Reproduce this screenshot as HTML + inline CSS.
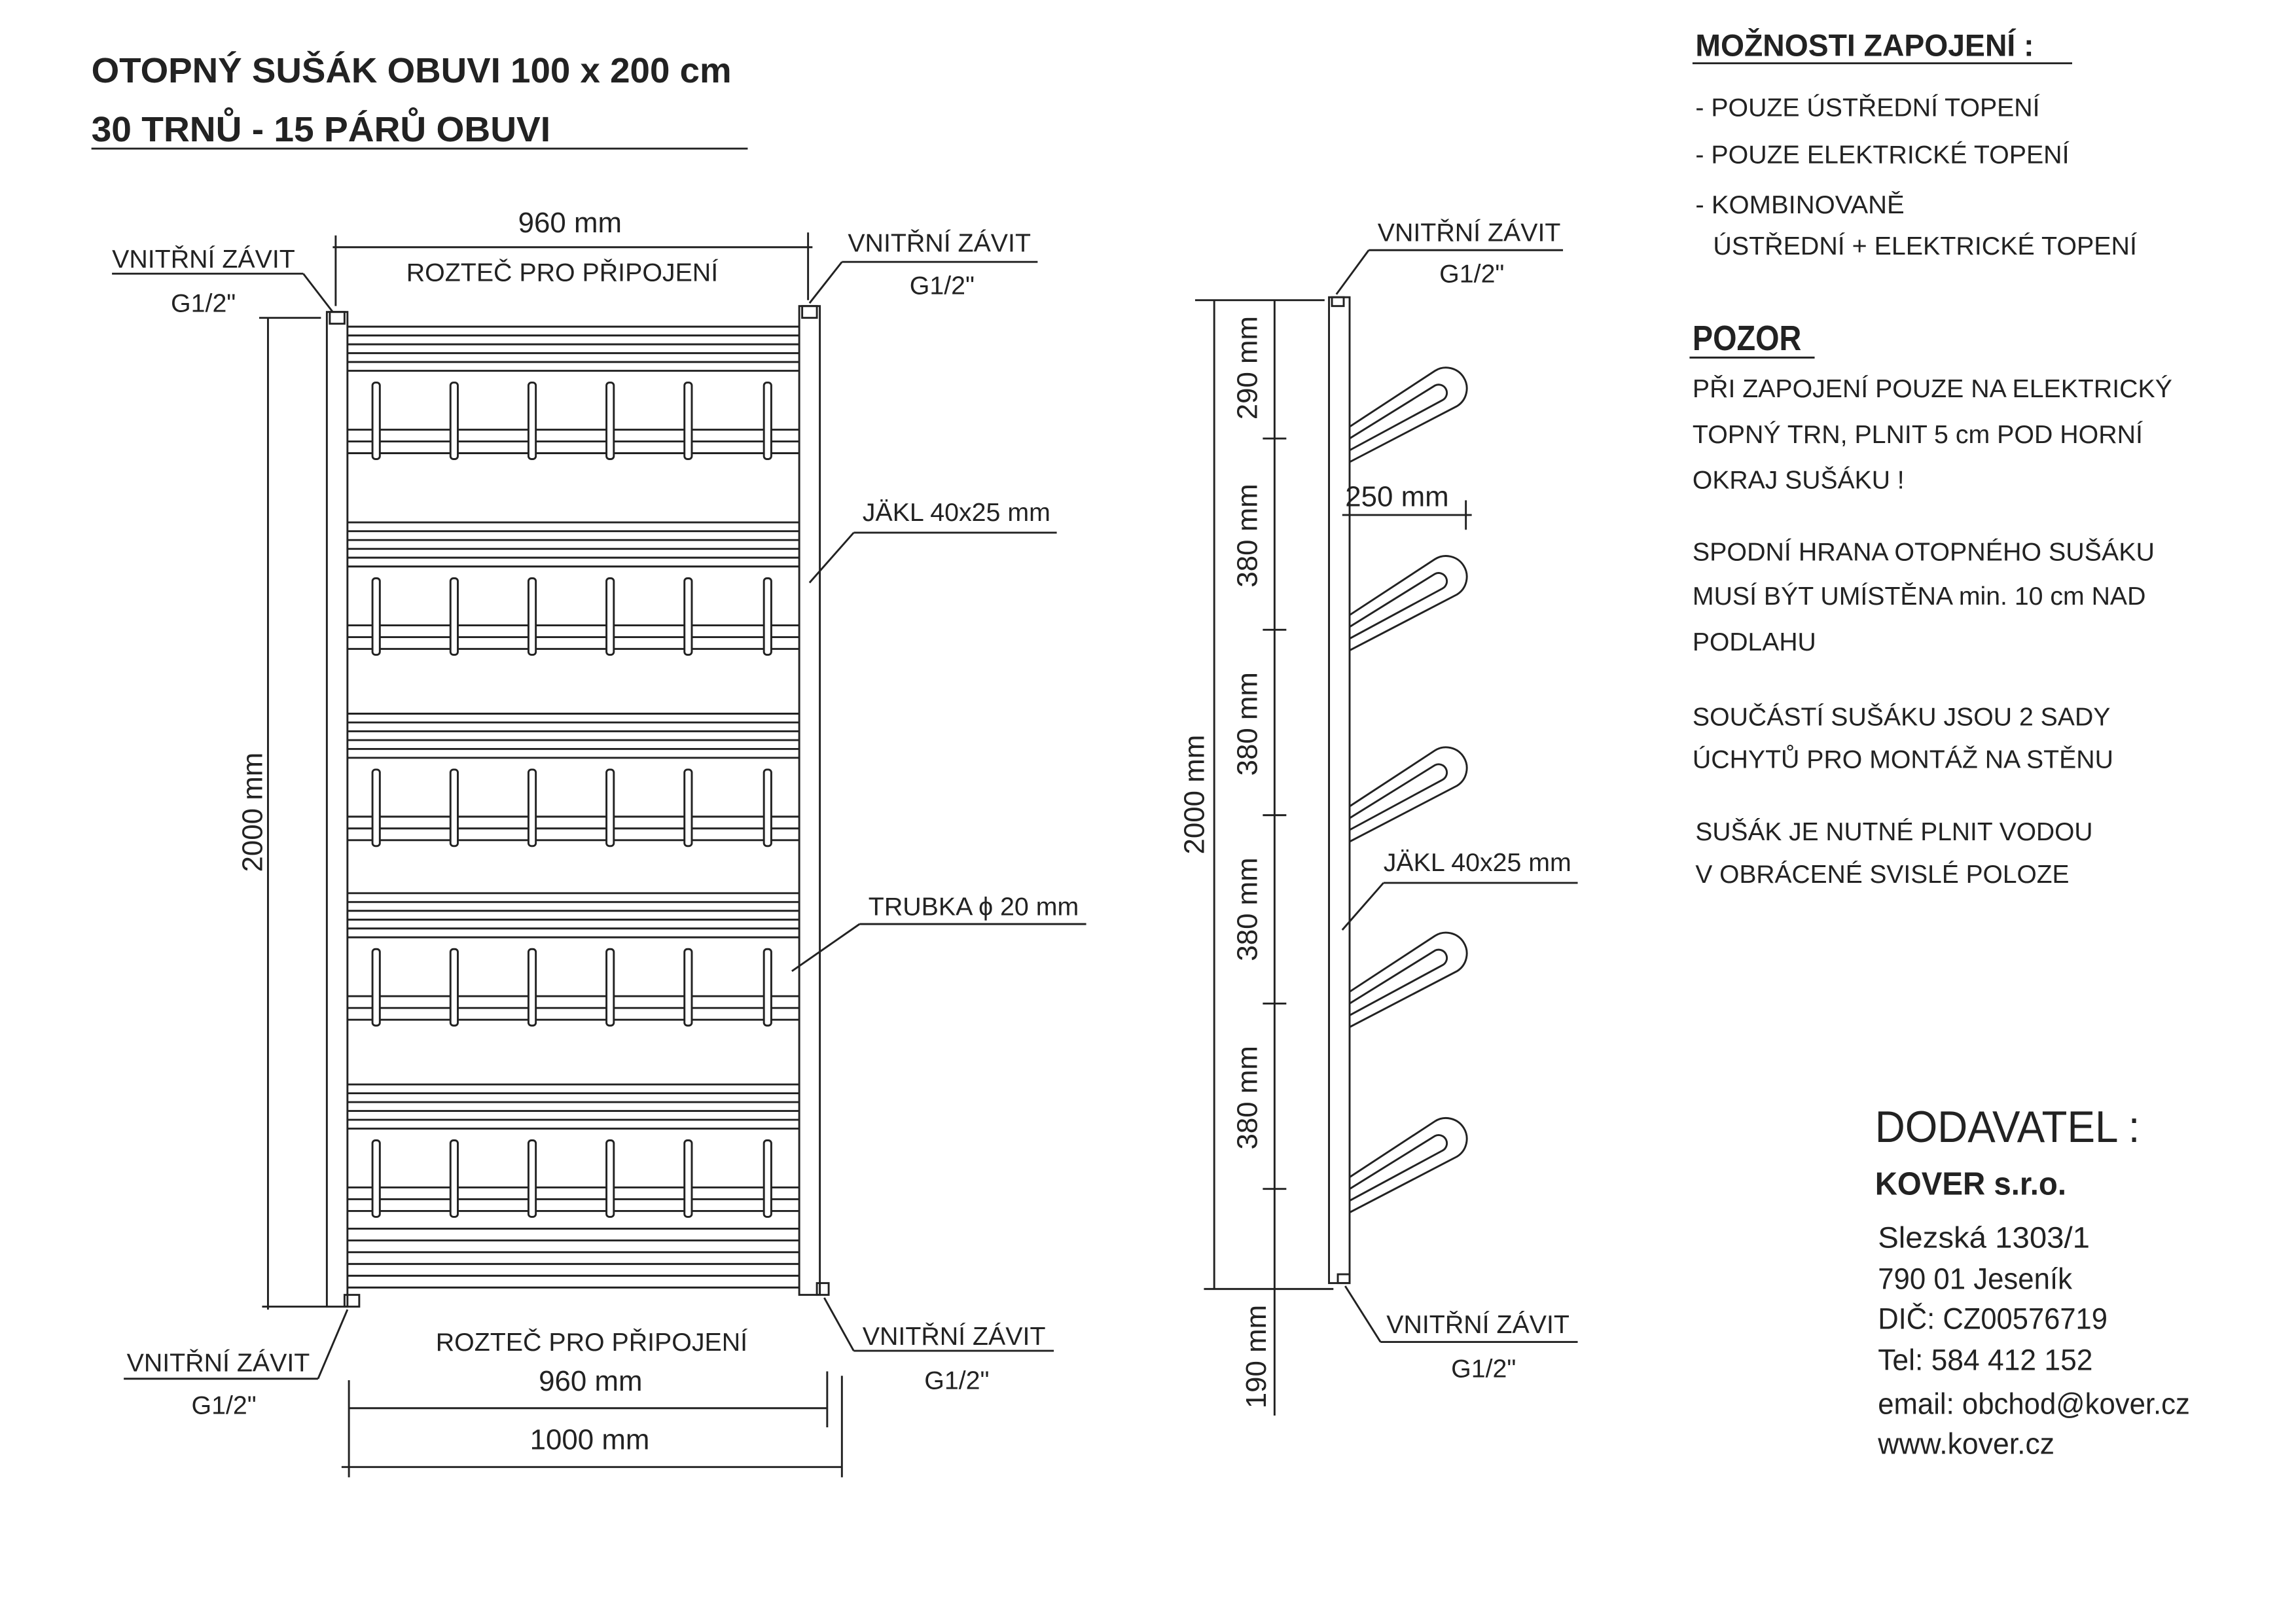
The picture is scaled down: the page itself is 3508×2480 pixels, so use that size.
<!DOCTYPE html>
<html><head><meta charset="utf-8"><style>
html,body{margin:0;padding:0;background:#fff;}
svg{display:block;}
text{font-family:"Liberation Sans",sans-serif;fill:#222;}
</style></head><body>
<svg width="3508" height="2480" viewBox="0 0 1560 1103" xmlns="http://www.w3.org/2000/svg">
<defs>
<g id="grp">
 <line x1="236" y1="0" x2="543" y2="0"/><line x1="236" y1="6" x2="543" y2="6"/>
 <line x1="236" y1="12" x2="543" y2="12"/><line x1="236" y1="18" x2="543" y2="18"/>
 <line x1="236" y1="24" x2="543" y2="24"/><line x1="236" y1="30" x2="543" y2="30"/>
 <line x1="236" y1="70" x2="543" y2="70"/><line x1="236" y1="78" x2="543" y2="78"/>
 <line x1="236" y1="86" x2="543" y2="86"/>
 <g fill="#fff">
 <rect x="253" y="38" width="5" height="52" rx="2"/><rect x="306" y="38" width="5" height="52" rx="2"/>
 <rect x="359" y="38" width="5" height="52" rx="2"/><rect x="412" y="38" width="5" height="52" rx="2"/>
 <rect x="465" y="38" width="5" height="52" rx="2"/><rect x="519" y="38" width="5" height="52" rx="2"/>
 </g>
</g>
<g id="loop">
 <path d="M917 50 L975 12 A14 14 0 0 1 990 36 L917 74" fill="none"/>
 <path d="M917 58 L975 22 A5 5 0 0 1 980 32 L917 66" fill="none"/>
</g>
</defs>
<g stroke="#222" stroke-width="1.3" fill="none">
 <line x1="62" y1="101" x2="508" y2="101"/>
 <line x1="1150" y1="43" x2="1408" y2="43"/>
 <line x1="1148" y1="243" x2="1233" y2="243"/>
 <rect x="222" y="212" width="14" height="676"/>
 <rect x="224" y="212" width="10" height="8"/><rect x="234" y="880" width="10" height="8"/>
 <rect x="543" y="208" width="14" height="672"/>
 <rect x="545" y="208" width="10" height="8"/><rect x="555" y="872" width="8" height="8"/>
 <use href="#grp" y="222"/><use href="#grp" y="355"/><use href="#grp" y="485"/>
 <use href="#grp" y="607"/><use href="#grp" y="737"/>
 <line x1="236" y1="835" x2="543" y2="835"/><line x1="236" y1="843" x2="543" y2="843"/>
 <line x1="236" y1="851" x2="543" y2="851"/><line x1="236" y1="859" x2="543" y2="859"/>
 <line x1="236" y1="867" x2="543" y2="867"/><line x1="236" y1="875" x2="543" y2="875"/>
 <line x1="226" y1="168" x2="552" y2="168"/><line x1="228" y1="160" x2="228" y2="208"/><line x1="549" y1="158" x2="549" y2="204"/>
 <line x1="182" y1="216" x2="182" y2="890"/><line x1="176" y1="216" x2="218" y2="216"/><line x1="178" y1="888" x2="222" y2="888"/>
 <line x1="237" y1="957" x2="562" y2="957"/><line x1="237" y1="938" x2="237" y2="1004"/><line x1="562" y1="932" x2="562" y2="970"/>
 <line x1="232" y1="997" x2="572" y2="997"/><line x1="572" y1="935" x2="572" y2="1004"/>
 <line x1="76" y1="186" x2="206" y2="186"/><line x1="206" y1="186" x2="226" y2="212"/>
 <line x1="572" y1="178" x2="705" y2="178"/><line x1="572" y1="178" x2="550" y2="206"/>
 <line x1="580" y1="362" x2="718" y2="362"/><line x1="580" y1="362" x2="550" y2="396"/>
 <line x1="584" y1="628" x2="738" y2="628"/><line x1="584" y1="628" x2="538" y2="660"/>
 <line x1="84" y1="937" x2="216" y2="937"/><line x1="216" y1="937" x2="236" y2="890"/>
 <line x1="580" y1="918" x2="716" y2="918"/><line x1="580" y1="918" x2="560" y2="882"/>
 <rect x="903" y="202" width="14" height="670"/>
 <rect x="905" y="202" width="8" height="6"/><rect x="909" y="866" width="8" height="6"/>
 <use href="#loop" y="240"/><use href="#loop" y="368"/><use href="#loop" y="498"/>
 <use href="#loop" y="624"/><use href="#loop" y="750"/>
 <line x1="825" y1="204" x2="825" y2="876"/><line x1="812" y1="204" x2="900" y2="204"/>
 <line x1="866" y1="204" x2="866" y2="962"/>
 <line x1="858" y1="298" x2="874" y2="298"/><line x1="858" y1="428" x2="874" y2="428"/>
 <line x1="858" y1="554" x2="874" y2="554"/><line x1="858" y1="682" x2="874" y2="682"/>
 <line x1="858" y1="808" x2="874" y2="808"/><line x1="818" y1="876" x2="906" y2="876"/>
 <line x1="912" y1="350" x2="1000" y2="350"/><line x1="996" y1="340" x2="996" y2="360"/>
 <line x1="930" y1="170" x2="1062" y2="170"/><line x1="930" y1="170" x2="908" y2="200"/>
 <line x1="940" y1="600" x2="1072" y2="600"/><line x1="940" y1="600" x2="912" y2="632"/>
 <line x1="938" y1="912" x2="1072" y2="912"/><line x1="938" y1="912" x2="914" y2="874"/>
</g>
<text x="62" y="56" font-size="24" font-weight="bold" textLength="435" lengthAdjust="spacingAndGlyphs">OTOPNÝ SUŠÁK OBUVI 100 x 200 cm</text>
<text x="62" y="96" font-size="24" font-weight="bold" textLength="312" lengthAdjust="spacingAndGlyphs">30 TRNŮ - 15 PÁRŮ OBUVI</text>
<text x="1152" y="38" font-size="21" font-weight="bold" textLength="230" lengthAdjust="spacingAndGlyphs">MOŽNOSTI ZAPOJENÍ :</text>
<g font-size="17.5">
<text x="1152" y="79" textLength="234" lengthAdjust="spacingAndGlyphs">- POUZE ÚSTŘEDNÍ TOPENÍ</text>
<text x="1152" y="111" textLength="254" lengthAdjust="spacingAndGlyphs">- POUZE ELEKTRICKÉ TOPENÍ</text>
<text x="1152" y="145" textLength="142" lengthAdjust="spacingAndGlyphs">- KOMBINOVANĚ</text>
<text x="1164" y="173" textLength="288" lengthAdjust="spacingAndGlyphs">ÚSTŘEDNÍ + ELEKTRICKÉ TOPENÍ</text>
<text x="1150" y="270" textLength="326" lengthAdjust="spacingAndGlyphs">PŘI ZAPOJENÍ POUZE NA ELEKTRICKÝ</text>
<text x="1150" y="301" textLength="306" lengthAdjust="spacingAndGlyphs">TOPNÝ TRN, PLNIT 5 cm POD HORNÍ</text>
<text x="1150" y="332" textLength="144" lengthAdjust="spacingAndGlyphs">OKRAJ SUŠÁKU !</text>
<text x="1150" y="381" textLength="314" lengthAdjust="spacingAndGlyphs">SPODNÍ HRANA OTOPNÉHO SUŠÁKU</text>
<text x="1150" y="411" textLength="308" lengthAdjust="spacingAndGlyphs">MUSÍ BÝT UMÍSTĚNA min. 10 cm NAD</text>
<text x="1150" y="442" textLength="84" lengthAdjust="spacingAndGlyphs">PODLAHU</text>
<text x="1150" y="493" textLength="284" lengthAdjust="spacingAndGlyphs">SOUČÁSTÍ SUŠÁKU JSOU 2 SADY</text>
<text x="1150" y="522" textLength="286" lengthAdjust="spacingAndGlyphs">ÚCHYTŮ PRO MONTÁŽ NA STĚNU</text>
<text x="1152" y="571" textLength="270" lengthAdjust="spacingAndGlyphs">SUŠÁK JE NUTNÉ PLNIT VODOU</text>
<text x="1152" y="600" textLength="254" lengthAdjust="spacingAndGlyphs">V OBRÁCENÉ SVISLÉ POLOZE</text>
<text x="76" y="182">VNITŘNÍ ZÁVIT</text><text x="116" y="212">G1/2"</text>
<text x="276" y="191">ROZTEČ PRO PŘIPOJENÍ</text>
<text x="576" y="171">VNITŘNÍ ZÁVIT</text><text x="618" y="200">G1/2"</text>
<text x="586" y="354">JÄKL 40x25 mm</text>
<text x="590" y="622">TRUBKA ϕ 20 mm</text>
<text x="86" y="932">VNITŘNÍ ZÁVIT</text><text x="130" y="961">G1/2"</text>
<text x="296" y="918">ROZTEČ PRO PŘIPOJENÍ</text>
<text x="586" y="914">VNITŘNÍ ZÁVIT</text><text x="628" y="944">G1/2"</text>
<text x="936" y="164">VNITŘNÍ ZÁVIT</text><text x="978" y="192">G1/2"</text>
<text x="940" y="592">JÄKL 40x25 mm</text>
<text x="942" y="906">VNITŘNÍ ZÁVIT</text><text x="986" y="936">G1/2"</text>
</g>
<g font-size="19.5">
<text x="352" y="158">960 mm</text>
<text x="366" y="945">960 mm</text>
<text x="360" y="985">1000 mm</text>
<text x="914" y="344">250 mm</text>
<text transform="translate(178 552) rotate(-90)" text-anchor="middle">2000 mm</text>
<text transform="translate(818 540) rotate(-90)" text-anchor="middle">2000 mm</text>
<text transform="translate(854 250) rotate(-90)" text-anchor="middle">290 mm</text>
<text transform="translate(854 364) rotate(-90)" text-anchor="middle">380 mm</text>
<text transform="translate(854 492) rotate(-90)" text-anchor="middle">380 mm</text>
<text transform="translate(854 618) rotate(-90)" text-anchor="middle">380 mm</text>
<text transform="translate(854 746) rotate(-90)" text-anchor="middle">380 mm</text>
<text transform="translate(860 922) rotate(-90)" text-anchor="middle">190 mm</text>
</g>
<text x="1150" y="238" font-size="24" font-weight="bold" textLength="74" lengthAdjust="spacingAndGlyphs">POZOR</text>
<text x="1274" y="776" font-size="30" textLength="180" lengthAdjust="spacingAndGlyphs">DODAVATEL :</text>
<text x="1274" y="812" font-size="22" font-weight="bold" textLength="130" lengthAdjust="spacingAndGlyphs">KOVER s.r.o.</text>
<g font-size="20">
<text x="1276" y="848" textLength="144" lengthAdjust="spacingAndGlyphs">Slezská 1303/1</text>
<text x="1276" y="876" textLength="132" lengthAdjust="spacingAndGlyphs">790 01 Jeseník</text>
<text x="1276" y="903" textLength="156" lengthAdjust="spacingAndGlyphs">DIČ: CZ00576719</text>
<text x="1276" y="931" textLength="146" lengthAdjust="spacingAndGlyphs">Tel: 584 412 152</text>
<text x="1276" y="961" textLength="212" lengthAdjust="spacingAndGlyphs">email: obchod@kover.cz</text>
<text x="1276" y="988" textLength="120" lengthAdjust="spacingAndGlyphs">www.kover.cz</text>
</g>
</svg>
</body></html>
